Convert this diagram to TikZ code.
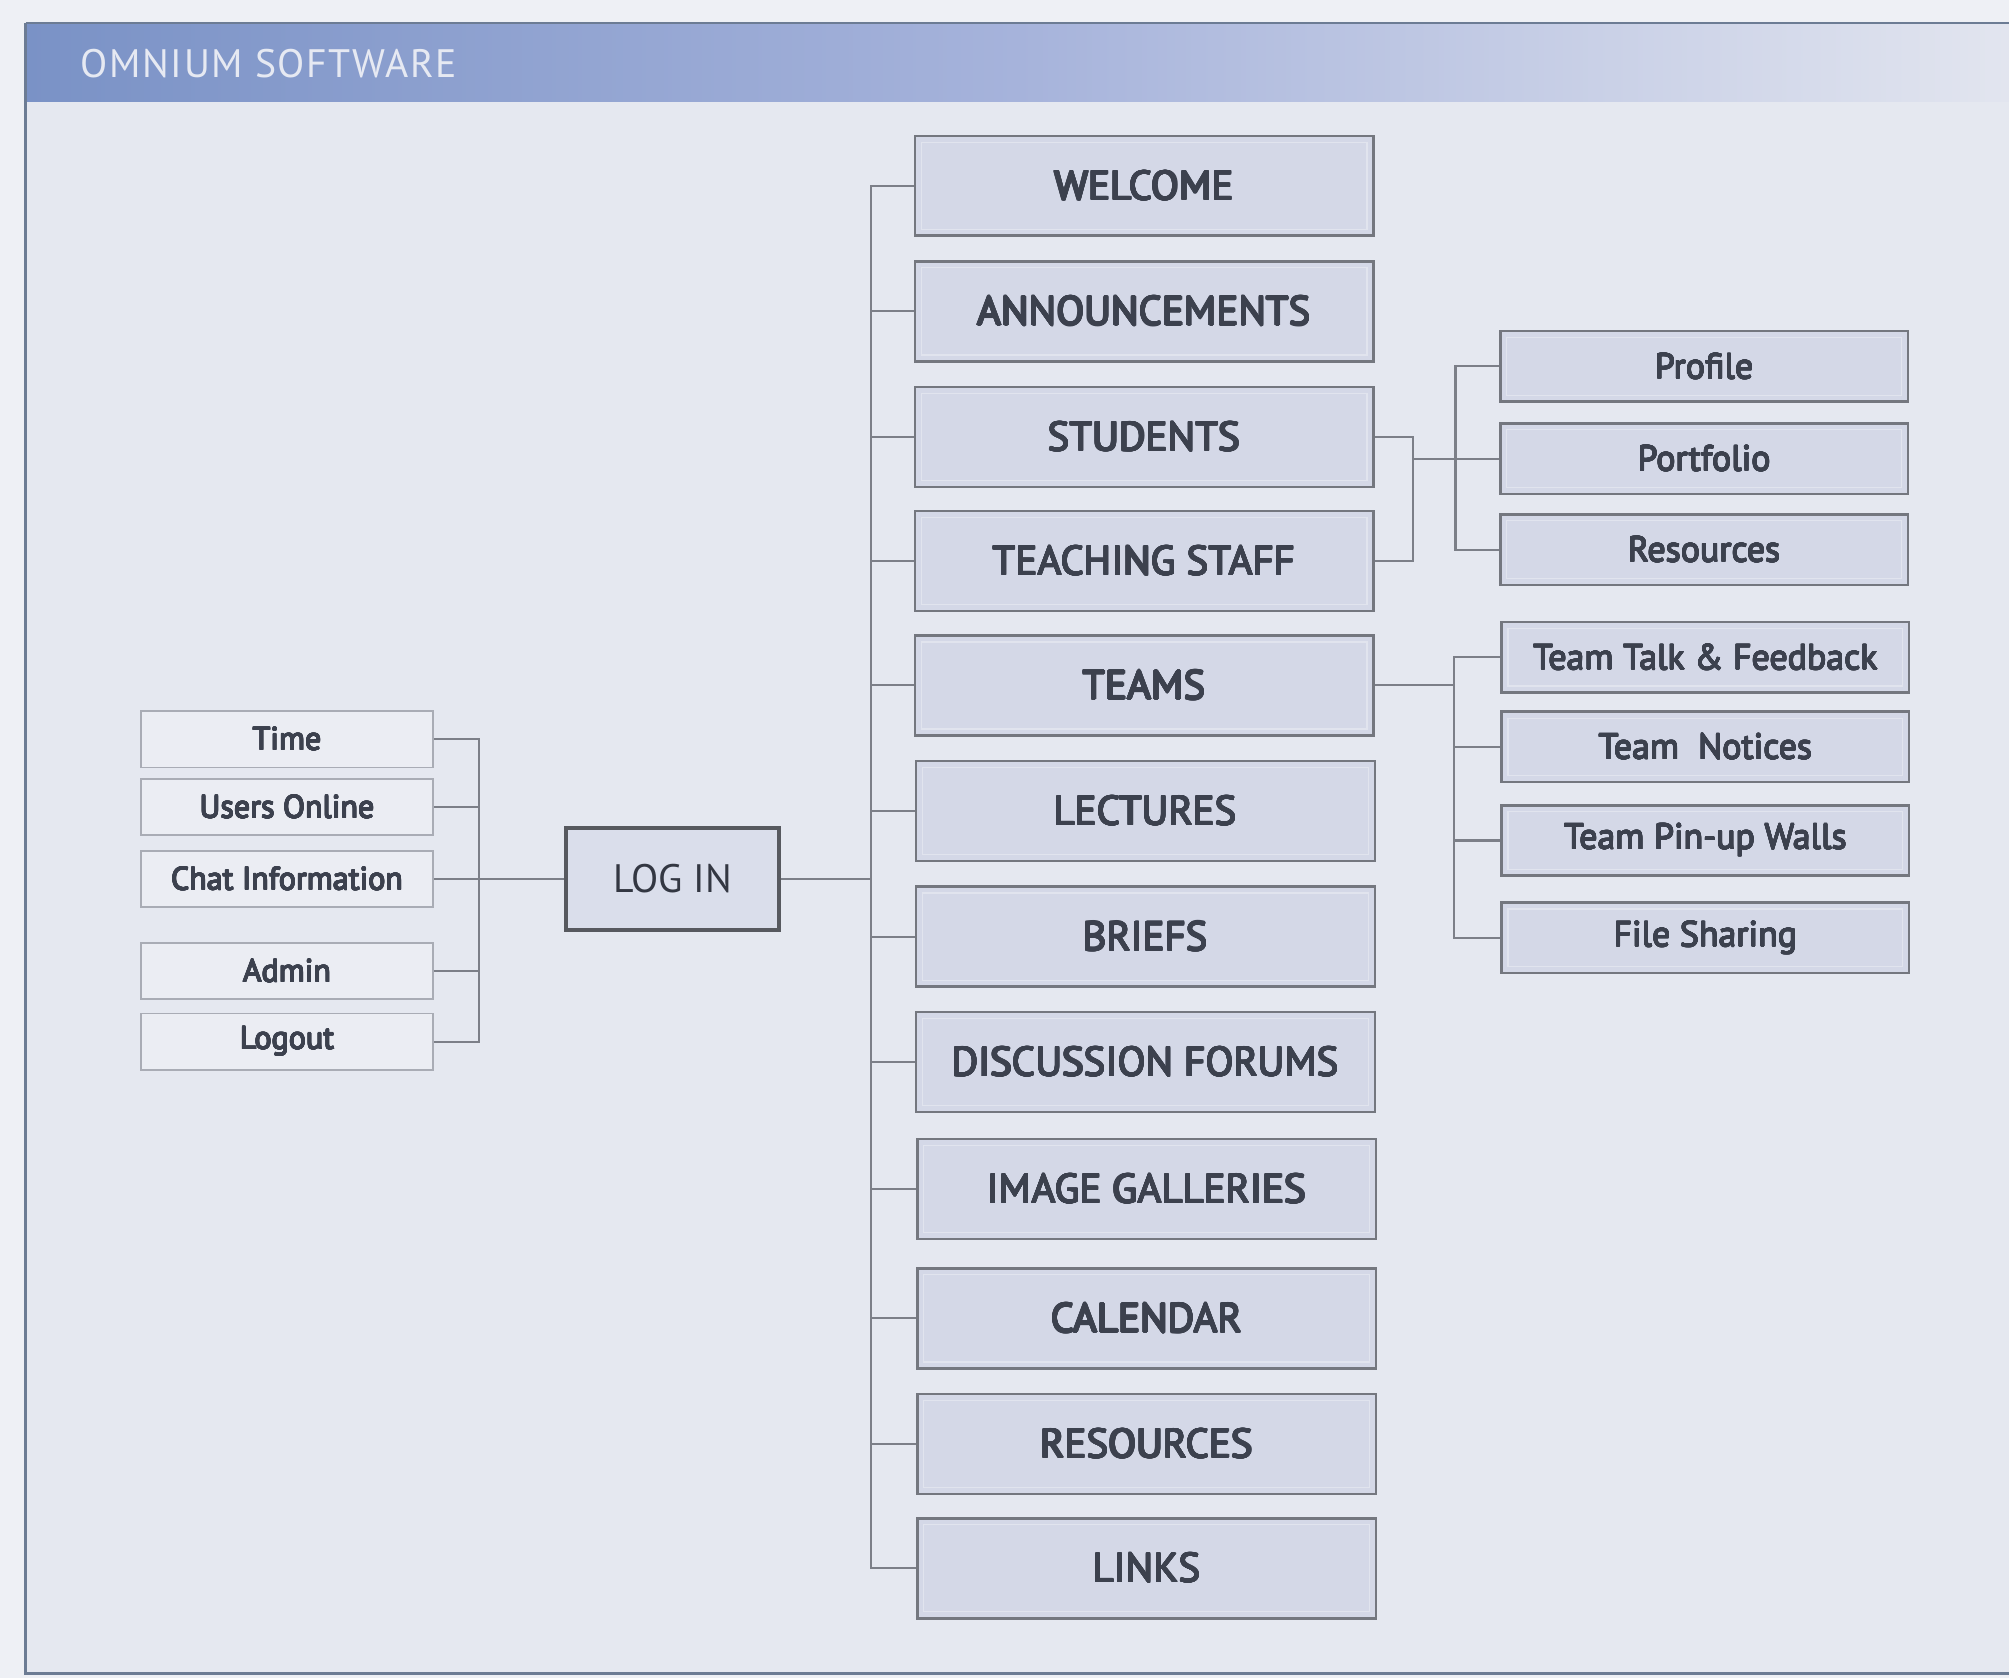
\documentclass[tikz,border=0pt]{standalone}
\usepackage{fontspec}
\usepackage{contour}
\setmainfont{PT Sans}
\newfontfamily\headfont{PT Sans}[LetterSpace=4]

\definecolor{outerbg}{HTML}{EEF0F5}
\definecolor{pagebg}{HTML}{E5E8F0}
\definecolor{barleft}{HTML}{7A92C6}
\definecolor{barmid}{HTML}{A6B3DB}
\definecolor{barright}{HTML}{E2E5EF}
\definecolor{framecol}{HTML}{6C7C94}
\definecolor{boxfill}{HTML}{D4D8E7}
\definecolor{boxline}{HTML}{74777F}
\definecolor{boxtext}{HTML}{3C414E}
\definecolor{wirecol}{HTML}{7C7F88}
\definecolor{lightfill}{HTML}{EBEDF3}
\definecolor{lightline}{HTML}{A9ACB5}
\definecolor{headtext}{HTML}{E6E9F2}

% semibold look: the text is drawn with a thin outline of its own colour
\contournumber{16}
\newcommand{\heavy}[1]{\contourlength{0.26pt}\contour{boxtext}{#1}}
\newcommand{\medium}[1]{\contourlength{0.2pt}\contour{boxtext}{#1}}

\tikzset{
  innerline/.style={path picture={
      \draw[white!30!boxfill, line width=0.5pt]
        ([shift={(2.5pt,-2.5pt)}]path picture bounding box.north west) rectangle
        ([shift={(-2.5pt,2.5pt)}]path picture bounding box.south east);}},
  menubox/.style={draw=boxline, line width=1pt, fill=boxfill, text=boxtext,
    minimum width=179pt, minimum height=39pt, inner sep=0pt, innerline,
    font=\fontsize{16}{19}\selectfont},
  subbox/.style={draw=boxline, line width=1pt, fill=boxfill, text=boxtext,
    minimum width=159pt, minimum height=27.5pt, inner sep=0pt, innerline,
    font=\fontsize{14}{17}\selectfont},
  sidebox/.style={draw=lightline, line width=0.7pt, fill=lightfill, text=boxtext,
    minimum width=114pt, minimum height=22pt, inner sep=0pt,
    font=\fontsize{12.5}{15}\selectfont},
  loginbox/.style={draw=boxline!75!black, line width=1.6pt, fill=boxfill!85!white,
    text=boxtext!85!black, minimum width=83pt, minimum height=40pt, inner sep=0pt,
    font=\fontsize{15.5}{18}\selectfont},
  wire/.style={draw=wirecol, line width=0.8pt},
}

\begin{document}
\begin{tikzpicture}[x=0.5pt, y=-0.5pt]
  % page and frame
  \fill[outerbg] (0,0) rectangle (1568,1310);
  \useasboundingbox (0,0) rectangle (1568,1310);
  \fill[pagebg] (20,78) rectangle (1568,1306);
  \shade[left color=barleft, right color=barright, middle color=barmid]
    (20,18) rectangle (1568,79);
  \draw[framecol, line width=1pt] (20,18) -- (1568,18);
  \draw[framecol, line width=1.4pt] (20,18) -- (20,1306) -- (1568,1306);
  \node[anchor=west, text=headtext, font=\headfont\fontsize{15.5}{18}\selectfont]
    (title) at (56,50) {OMNIUM SOFTWARE};

  % side panel items
  \node[sidebox] (time)   at (224,577) {\medium{Time}};
  \node[sidebox] (users)  at (224,630) {\medium{Users Online}};
  \node[sidebox] (chat)   at (224,686) {\medium{Chat Information}};
  \node[sidebox] (admin)  at (224,758) {\medium{Admin}};
  \node[sidebox] (logout) at (224,813) {\medium{Logout}};

  % log in
  \node[loginbox] (login) at (525,686) {LOG IN};

  % main menu
  \node[menubox] (welcome)  at (893,145)  {\heavy{WELCOME}};
  \node[menubox] (announce) at (893,243)  {\heavy{ANNOUNCEMENTS}};
  \node[menubox] (students) at (893,341)  {\heavy{STUDENTS}};
  \node[menubox] (staff)    at (893,438)  {\heavy{TEACHING STAFF}};
  \node[menubox] (teams)    at (893,535)  {\heavy{TEAMS}};
  \node[menubox] (lectures) at (894,633)  {\heavy{LECTURES}};
  \node[menubox] (briefs)   at (894,731)  {\heavy{BRIEFS}};
  \node[menubox] (forums)   at (894,829)  {\heavy{DISCUSSION FORUMS}};
  \node[menubox] (gallery)  at (895,928)  {\heavy{IMAGE GALLERIES}};
  \node[menubox] (calendar) at (895,1029) {\heavy{CALENDAR}};
  \node[menubox] (resmain)  at (895,1127) {\heavy{RESOURCES}};
  \node[menubox] (links)    at (895,1224) {\heavy{LINKS}};

  % people sub-menu
  \node[subbox] (profile)   at (1330,286) {\medium{Profile}};
  \node[subbox] (portfolio) at (1330,358) {\medium{Portfolio}};
  \node[subbox] (resources) at (1330,429) {\medium{Resources}};

  % teams sub-menu
  \node[subbox] (talk)    at (1331,513) {\medium{Team Talk \& Feedback}};
  \node[subbox] (notices) at (1331,583) {\medium{Team\ \ Notices}};
  \node[subbox] (pinup)   at (1331,656) {\medium{Team Pin-up Walls}};
  \node[subbox] (sharing) at (1331,732) {\medium{File Sharing}};

  % junction points
  \coordinate (sidejoin)  at (374,686);
  \coordinate (trunk)     at (680,686);
  \coordinate (peoplebus) at (1103,358);
  \coordinate (peoplejoin) at (1136,358);
  \coordinate (teamjoin)  at (1135,535);

  % side panel bracket
  \foreach \n in {time,users,chat,admin,logout}
    \draw[wire] (\n.east) -| (sidejoin);
  \draw[wire] (sidejoin) -- (login.west);

  % main trunk
  \draw[wire] (login.east) -- (trunk);
  \foreach \n in {welcome,announce,students,staff,teams,lectures,briefs,
                  forums,gallery,calendar,resmain,links}
    \draw[wire] (\n.west) -| (trunk);

  % students and staff to their sub-menu
  \draw[wire] (students.east) -| (peoplebus);
  \draw[wire] (staff.east) -| (peoplebus);
  \draw[wire] (peoplebus) -- (portfolio.west);
  \draw[wire] (profile.west) -| (peoplejoin);
  \draw[wire] (resources.west) -| (peoplejoin);

  % teams to its sub-menu
  \draw[wire] (teams.east) -- (teamjoin);
  \foreach \n in {talk,notices,pinup,sharing}
    \draw[wire] (\n.west) -| (teamjoin);
\end{tikzpicture}
\end{document}
